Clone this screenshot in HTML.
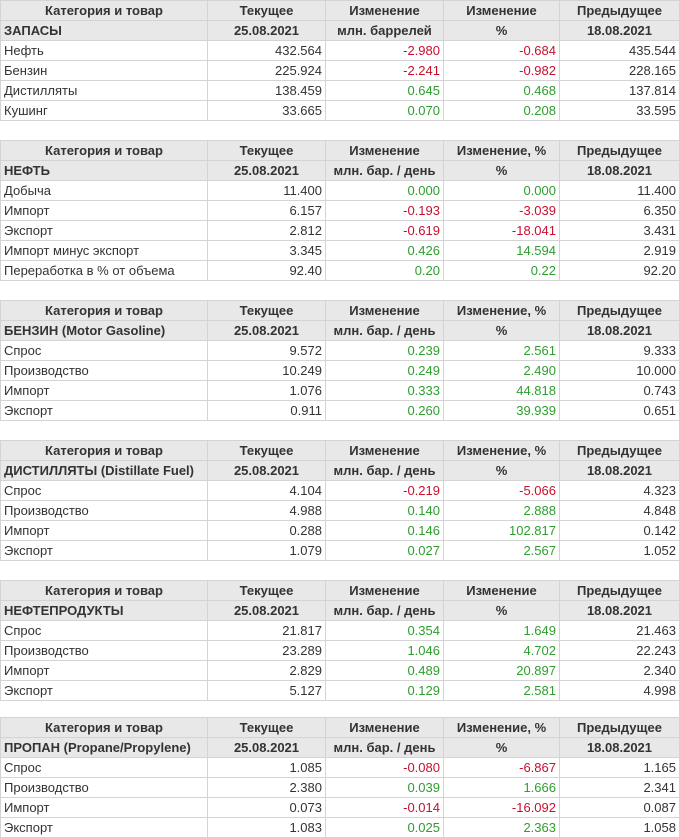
<!DOCTYPE html>
<html><head><meta charset="utf-8"><style>
body{margin:0;background:#fff;font-family:"Liberation Sans",Arial,sans-serif;font-size:13px;color:#333;width:679px;height:838px;overflow:hidden;position:relative}
table{position:absolute;left:0;border-collapse:collapse;table-layout:fixed;width:679px}
td{border:1px solid #d4d4d4;height:19px;padding:0 3px;white-space:nowrap;line-height:18px;overflow:hidden}
tr.h td{background:#e8e8e8;font-weight:bold;text-align:center}
tr.h2 td{background:#e8e8e8;font-weight:bold;text-align:center}
tr.h2 td:first-child{text-align:left}
td.n{text-align:right}
.r{color:#c8102e}.g{color:#2e9e2e}
</style></head><body>
<table style="top:0"><colgroup><col style="width:207px"><col style="width:118px"><col style="width:118px"><col style="width:116px"><col style="width:120px"></colgroup>
<tr class="h"><td>Категория и товар</td><td>Текущее</td><td>Изменение</td><td>Изменение</td><td>Предыдущее</td></tr>
<tr class="h2"><td>ЗАПАСЫ</td><td>25.08.2021</td><td>млн. баррелей</td><td>%</td><td>18.08.2021</td></tr>
<tr><td>Нефть</td><td class="n">432.564</td><td class="n r">-2.980</td><td class="n r">-0.684</td><td class="n">435.544</td></tr>
<tr><td>Бензин</td><td class="n">225.924</td><td class="n r">-2.241</td><td class="n r">-0.982</td><td class="n">228.165</td></tr>
<tr><td>Дистилляты</td><td class="n">138.459</td><td class="n g">0.645</td><td class="n g">0.468</td><td class="n">137.814</td></tr>
<tr><td>Кушинг</td><td class="n">33.665</td><td class="n g">0.070</td><td class="n g">0.208</td><td class="n">33.595</td></tr>
</table>
<table style="top:140px"><colgroup><col style="width:207px"><col style="width:118px"><col style="width:118px"><col style="width:116px"><col style="width:120px"></colgroup>
<tr class="h"><td>Категория и товар</td><td>Текущее</td><td>Изменение</td><td>Изменение, %</td><td>Предыдущее</td></tr>
<tr class="h2"><td>НЕФТЬ</td><td>25.08.2021</td><td>млн. бар. / день</td><td>%</td><td>18.08.2021</td></tr>
<tr><td>Добыча</td><td class="n">11.400</td><td class="n g">0.000</td><td class="n g">0.000</td><td class="n">11.400</td></tr>
<tr><td>Импорт</td><td class="n">6.157</td><td class="n r">-0.193</td><td class="n r">-3.039</td><td class="n">6.350</td></tr>
<tr><td>Экспорт</td><td class="n">2.812</td><td class="n r">-0.619</td><td class="n r">-18.041</td><td class="n">3.431</td></tr>
<tr><td>Импорт минус экспорт</td><td class="n">3.345</td><td class="n g">0.426</td><td class="n g">14.594</td><td class="n">2.919</td></tr>
<tr><td>Переработка в % от объема</td><td class="n">92.40</td><td class="n g">0.20</td><td class="n g">0.22</td><td class="n">92.20</td></tr>
</table>
<table style="top:300px"><colgroup><col style="width:207px"><col style="width:118px"><col style="width:118px"><col style="width:116px"><col style="width:120px"></colgroup>
<tr class="h"><td>Категория и товар</td><td>Текущее</td><td>Изменение</td><td>Изменение, %</td><td>Предыдущее</td></tr>
<tr class="h2"><td>БЕНЗИН (Motor Gasoline)</td><td>25.08.2021</td><td>млн. бар. / день</td><td>%</td><td>18.08.2021</td></tr>
<tr><td>Спрос</td><td class="n">9.572</td><td class="n g">0.239</td><td class="n g">2.561</td><td class="n">9.333</td></tr>
<tr><td>Производство</td><td class="n">10.249</td><td class="n g">0.249</td><td class="n g">2.490</td><td class="n">10.000</td></tr>
<tr><td>Импорт</td><td class="n">1.076</td><td class="n g">0.333</td><td class="n g">44.818</td><td class="n">0.743</td></tr>
<tr><td>Экспорт</td><td class="n">0.911</td><td class="n g">0.260</td><td class="n g">39.939</td><td class="n">0.651</td></tr>
</table>
<table style="top:440px"><colgroup><col style="width:207px"><col style="width:118px"><col style="width:118px"><col style="width:116px"><col style="width:120px"></colgroup>
<tr class="h"><td>Категория и товар</td><td>Текущее</td><td>Изменение</td><td>Изменение, %</td><td>Предыдущее</td></tr>
<tr class="h2"><td>ДИСТИЛЛЯТЫ (Distillate Fuel)</td><td>25.08.2021</td><td>млн. бар. / день</td><td>%</td><td>18.08.2021</td></tr>
<tr><td>Спрос</td><td class="n">4.104</td><td class="n r">-0.219</td><td class="n r">-5.066</td><td class="n">4.323</td></tr>
<tr><td>Производство</td><td class="n">4.988</td><td class="n g">0.140</td><td class="n g">2.888</td><td class="n">4.848</td></tr>
<tr><td>Импорт</td><td class="n">0.288</td><td class="n g">0.146</td><td class="n g">102.817</td><td class="n">0.142</td></tr>
<tr><td>Экспорт</td><td class="n">1.079</td><td class="n g">0.027</td><td class="n g">2.567</td><td class="n">1.052</td></tr>
</table>
<table style="top:580px"><colgroup><col style="width:207px"><col style="width:118px"><col style="width:118px"><col style="width:116px"><col style="width:120px"></colgroup>
<tr class="h"><td>Категория и товар</td><td>Текущее</td><td>Изменение</td><td>Изменение</td><td>Предыдущее</td></tr>
<tr class="h2"><td>НЕФТЕПРОДУКТЫ</td><td>25.08.2021</td><td>млн. бар. / день</td><td>%</td><td>18.08.2021</td></tr>
<tr><td>Спрос</td><td class="n">21.817</td><td class="n g">0.354</td><td class="n g">1.649</td><td class="n">21.463</td></tr>
<tr><td>Производство</td><td class="n">23.289</td><td class="n g">1.046</td><td class="n g">4.702</td><td class="n">22.243</td></tr>
<tr><td>Импорт</td><td class="n">2.829</td><td class="n g">0.489</td><td class="n g">20.897</td><td class="n">2.340</td></tr>
<tr><td>Экспорт</td><td class="n">5.127</td><td class="n g">0.129</td><td class="n g">2.581</td><td class="n">4.998</td></tr>
</table>
<table style="top:717px"><colgroup><col style="width:207px"><col style="width:118px"><col style="width:118px"><col style="width:116px"><col style="width:120px"></colgroup>
<tr class="h"><td>Категория и товар</td><td>Текущее</td><td>Изменение</td><td>Изменение, %</td><td>Предыдущее</td></tr>
<tr class="h2"><td>ПРОПАН (Propane/Propylene)</td><td>25.08.2021</td><td>млн. бар. / день</td><td>%</td><td>18.08.2021</td></tr>
<tr><td>Спрос</td><td class="n">1.085</td><td class="n r">-0.080</td><td class="n r">-6.867</td><td class="n">1.165</td></tr>
<tr><td>Производство</td><td class="n">2.380</td><td class="n g">0.039</td><td class="n g">1.666</td><td class="n">2.341</td></tr>
<tr><td>Импорт</td><td class="n">0.073</td><td class="n r">-0.014</td><td class="n r">-16.092</td><td class="n">0.087</td></tr>
<tr><td>Экспорт</td><td class="n">1.083</td><td class="n g">0.025</td><td class="n g">2.363</td><td class="n">1.058</td></tr>
</table>
</body></html>
